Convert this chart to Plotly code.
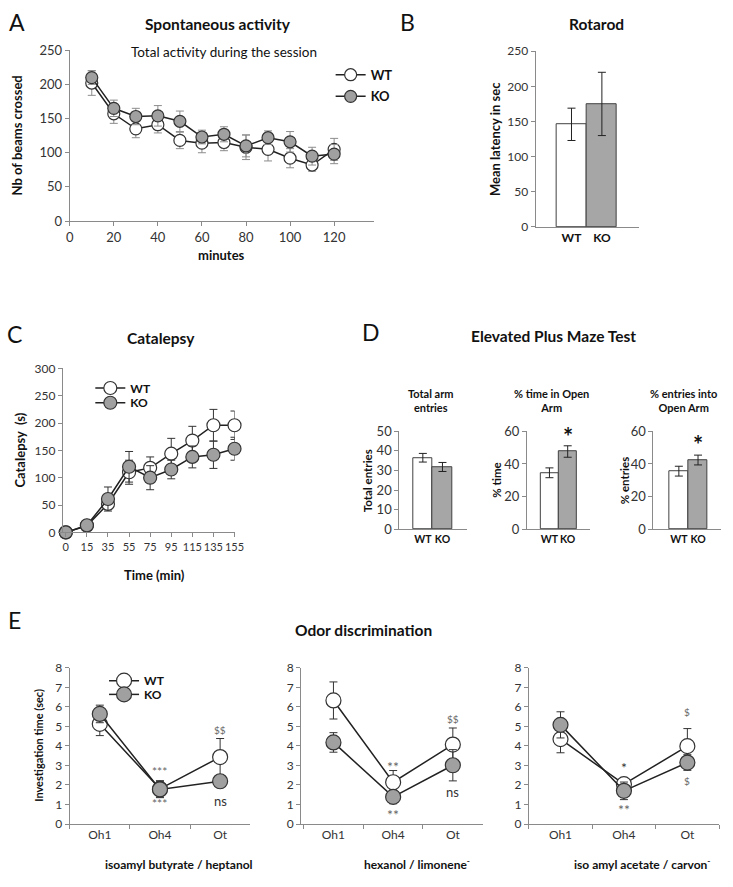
import plotly.graph_objects as go

W, H = 733, 887
FONT = "Lato"
DARK = "#333333"
AX = "#8a8a8a"
KO_FILL = "#a0a0a0"

# ---------------- data ----------------
a_minutes = [10, 20, 30, 40, 50, 60, 70, 80, 90, 100, 110, 120]
a_wt = [202, 157, 135, 141, 118, 114, 115, 108, 105, 92, 82, 105]
a_wt_err = [18, 14, 13, 12, 12, 14, 12, 18, 17, 14, 9, 16]
a_ko = [210, 165, 153, 154, 146, 123, 127, 110, 122, 116, 95, 98]
a_ko_err = [10, 12, 12, 15, 15, 10, 11, 16, 10, 15, 13, 14]
a_xticks = [0, 20, 40, 60, 80, 100, 120]

groups = ["WT", "KO"]
b_latency = [146, 175]
b_latency_err = [23, 45]

c_time = ["0", "15", "35", "55", "75", "95", "115", "135", "155"]
c_wt = [0, 12, 52, 110, 118, 144, 168, 196, 196]
c_wt_err = [0, 3, 10, 22, 20, 28, 26, 29, 26]
c_ko = [0, 13, 61, 120, 100, 115, 138, 142, 153]
c_ko_err = [0, 3, 22, 28, 22, 17, 20, 25, 21]

d_total = [36.5, 31.8]
d_total_err = [2.2, 2.3]
d_time = [34.6, 47.6]
d_time_err = [3.0, 3.5]
d_entries = [35.6, 42.4]
d_entries_err = [3.0, 3.0]

e_phases = ["Oh1", "Oh4", "Ot"]
e1_wt = [5.13, 1.80, 3.43]
e1_wt_err = [0.60, 0.42, 0.95]
e1_ko = [5.64, 1.77, 2.19]
e1_ko_err = [0.45, 0.42, 0.25]
e2_wt = [6.33, 2.14, 4.07]
e2_wt_err = [0.95, 0.60, 0.85]
e2_ko = [4.18, 1.39, 3.01]
e2_ko_err = [0.50, 0.35, 0.80]
e3_wt = [4.35, 2.04, 3.99]
e3_wt_err = [0.70, 0.25, 0.90]
e3_ko = [5.08, 1.70, 3.15]
e3_ko_err = [0.67, 0.45, 0.40]

# ---------------- helpers ----------------
def fx(p):
    return p / W

def fy(p):
    return 1 - p / H

fig = go.Figure()
layout = {}
TICK = dict(family=FONT, size=13, color=DARK)


def add_axes(i, left, right, top, bottom, xopts, yopts):
    suffix = "" if i == 1 else str(i)
    base = dict(showline=True, linecolor=AX, linewidth=1, showgrid=False,
                zeroline=False, ticks="outside", ticklen=4, tickcolor=AX,
                tickfont=TICK, tickangle=0, fixedrange=True)
    xa = dict(base, domain=[fx(left), fx(right)], anchor="y" + suffix)
    xa.update(xopts)
    ya = dict(base, domain=[fy(bottom), fy(top)], anchor="x" + suffix)
    ya.update(yopts)
    layout["xaxis" + suffix] = xa
    layout["yaxis" + suffix] = ya
    return "x" + suffix, "y" + suffix


def line_trace(x, y, err, name, fill, xa, ya, legend=None, size=12,
               errcolor=DARK):
    fig.add_trace(go.Scatter(
        x=x, y=y, mode="lines+markers", name="<b>%s</b>" % name,
        line=dict(color="#222222", width=1.5),
        marker=dict(size=size, color=fill, line=dict(color="#333333", width=1.2)),
        error_y=dict(type="data", array=err, color=errcolor, thickness=1, width=4),
        xaxis=xa, yaxis=ya, showlegend=legend is not None,
        legend=legend if legend else "legend",
        cliponaxis=False))


def bar_trace(x, y, err, xa, ya):
    fig.add_trace(go.Bar(
        x=x, y=y, width=[1, 1],
        marker=dict(color=["white", "#a6a6a6"], line=dict(color="#404040", width=1)),
        error_y=dict(type="data", array=err, color="#222222", thickness=1, width=4),
        xaxis=xa, yaxis=ya, showlegend=False))


annotations = []


def text(t, x, y, size=12, bold=False, angle=0, color="#111111", xref="paper",
         yref="paper", family=FONT, xanchor="center"):
    if xref == "paper":
        x = fx(x)
    if yref == "paper":
        y = fy(y)
    annotations.append(dict(
        text=("<b>%s</b>" % t) if bold else t, x=x, y=y, xref=xref, yref=yref,
        showarrow=False, textangle=angle, xanchor=xanchor, yanchor="middle",
        font=dict(family=family, size=size, color=color)))


bold_tick = dict(family=FONT, size=12, color="#111111", weight="bold")

# ---------------- A ----------------
xa, ya = add_axes(1, 67, 377, 43, 217,
                  dict(range=[0, 138], tickvals=a_xticks),
                  dict(range=[0, 250], dtick=50))
line_trace(a_minutes, a_wt, a_wt_err, "WT", "white", xa, ya, "legend",
           errcolor="#8c8c8c")
line_trace(a_minutes, a_ko, a_ko_err, "KO", KO_FILL, xa, ya, "legend2",
           errcolor="#8c8c8c")

# ---------------- B ----------------
xa, ya = add_axes(2, 542, 647, 44, 223,
                  dict(type="category", range=[-1.18, 2.21], ticks="",
                       tickfont=bold_tick),
                  dict(range=[0, 250], dtick=50, tickfont=dict(TICK, size=12)))
bar_trace(groups, b_latency, b_latency_err, xa, ya)

# ---------------- C ----------------
xa, ya = add_axes(3, 60, 235, 367, 534,
                  dict(type="category", range=[-0.14, 8.0], tickfont=dict(TICK, size=11)),
                  dict(range=[0, 300], dtick=50, tickfont=dict(TICK, size=12)))
line_trace(c_time, c_wt, c_wt_err, "WT", "white", xa, ya, "legend3", size=13)
line_trace(c_time, c_ko, c_ko_err, "KO", KO_FILL, xa, ya, "legend4", size=13)

# ---------------- D ----------------
d_specs = [
    (4, 403, 472, [-1.2, 2.25], 50, 10, d_total, d_total_err),
    (5, 533, 597, [-1.24, 2.2], 60, 20, d_time, d_time_err),
    (6, 662, 731, [-1.33, 2.2], 60, 20, d_entries, d_entries_err),
]
d_axes = []
for i, l, r, xr, ymax, dt, vals, errs in d_specs:
    xa, ya = add_axes(i, l, r, 431, 531,
                      dict(type="category", range=xr, ticks="",
                           tickfont=dict(bold_tick, size=10.5)),
                      dict(range=[0, ymax], dtick=dt))
    bar_trace(groups, vals, errs, xa, ya)
    d_axes.append((xa, ya))

# ---------------- E ----------------
e_specs = [
    (7, 67, 251, [-0.5, 2.5], e1_wt, e1_wt_err, e1_ko, e1_ko_err),
    (8, 303, 488, [-0.54, 2.5], e2_wt, e2_wt_err, e2_ko, e2_ko_err),
    (9, 535, 729, [-0.5, 2.5], e3_wt, e3_wt_err, e3_ko, e3_ko_err),
]
e_axes = []
for i, l, r, xr, wt, wte, ko, koe in e_specs:
    xa, ya = add_axes(i, l, r, 672, 831,
                      dict(type="category", range=xr, tickson="boundaries",
                           tickfont=dict(TICK, size=12)),
                      dict(range=[0, 8], dtick=1, tickfont=dict(TICK, size=12)))
    first = i == 7
    line_trace(e_phases, wt, wte, "WT", "white", xa, ya,
               "legend5" if first else None, size=15)
    line_trace(e_phases, ko, koe, "KO", KO_FILL, xa, ya,
               "legend6" if first else None, size=15)
    e_axes.append((xa, ya))

# ---------------- text ----------------
LET = 23
TT = 15.5
text("A", 13, 14, LET)
text("Spontaneous activity", 218, 16, TT, True)
text("Total activity during the session", 224, 45, 13.5)
text("Nb of beams crossed", 13, 130, 13, True, -90)
text("minutes", 222, 252, 13, True)

text("B", 411, 14, LET)
text("Rotarod", 604, 16, TT, True)
text("Mean latency in sec", 500, 133, 13, True, -90)

text("C", 11, 332, LET)
text("Catalepsy", 160, 336, TT, True)
text("Catalepsy  (s)", 16, 450, 13, True, -90)
text("Time (min)", 153, 577, 13, True)

text("D", 374, 330, LET)
text("Elevated Plus Maze Test", 560, 334, TT, True)
text("Total arm<br>entries", 435, 400, 11, True)
text("% time in Open<br>Arm", 558, 400, 11, True)
text("% entries into<br>Open Arm", 693, 400, 11, True)
text("Total entries", 370, 481, 11.5, True, -90)
text("% time", 502, 481, 11.5, True, -90)
text("% entries", 632, 481, 11.5, True, -90)
text("*", "KO", 57, 24, True, xref=d_axes[1][0], yref=d_axes[1][1])
text("*", "KO", 52, 24, True, xref=d_axes[2][0], yref=d_axes[2][1])

text("E", 11, 623, LET)
text("Odor discrimination", 367, 633, TT, True)
text("Investigation time (sec)", 35, 751, 11, True, -90)
text("isoamyl butyrate / heptanol", 178, 872, 12, True)
text("hexanol / limonene<sup>-</sup>", 421, 872, 12, True)
text("iso amyl acetate / carvon<sup>-</sup>", 650, 872, 12, True)

GREY = "#666666"
e_marks = [
    [("***", "Oh4", 2.7, 12, GREY), ("***", "Oh4", 1.05, 12, GREY),
     ("$$", "Ot", 4.8, 10, GREY), ("ns", "Ot", 1.2, 13, DARK)],
    [("**", "Oh4", 2.96, 14, GREY), ("**", "Oh4", 0.5, 14, GREY),
     ("$$", "Ot", 5.38, 10, GREY), ("ns", "Ot", 1.66, 13, DARK)],
    [("*", "Oh4", 2.9, 14, DARK), ("**", "Oh4", 0.75, 14, GREY),
     ("$", "Ot", 5.73, 10, GREY), ("$", "Ot", 2.2, 10, GREY)],
]
for (xa, ya), marks in zip(e_axes, e_marks):
    for t, xv, yv, sz, col in marks:
        text(t, xv, yv, sz, False, color=col, xref=xa, yref=ya)

leg_common = dict(bgcolor="rgba(0,0,0,0)", xanchor="left", yanchor="middle",
                  itemclick=False, itemdoubleclick=False)
leg_pos = {"legend": (333, 68, 13), "legend2": (333, 90, 13),
           "legend3": (88, 387, 12), "legend4": (88, 402, 12),
           "legend5": (102, 685, 12), "legend6": (102, 699, 12)}
for name, (lx, ly, fs) in leg_pos.items():
    layout[name] = dict(leg_common, x=fx(lx), y=fy(ly),
                        font=dict(family=FONT, size=fs, color="#111111"))

fig.update_layout(
    width=W, height=H, margin=dict(l=0, r=0, t=0, b=0),
    paper_bgcolor="white", plot_bgcolor="white", hovermode=False,
    bargap=0, annotations=annotations, **layout)

fig.write_html(
    "out.html",
    config={"displayModeBar": False, "staticPlot": False},
    post_script=("document.documentElement.style.margin='0';"
                 "document.body.style.margin='0';"
                 "document.body.style.overflow='hidden';"))
